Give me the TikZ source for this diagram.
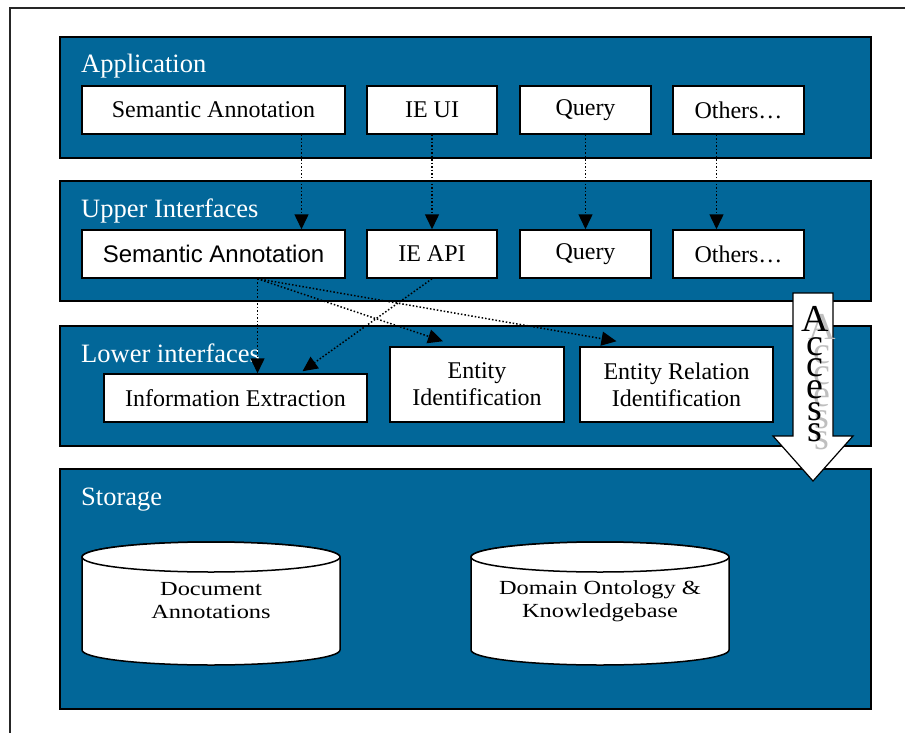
\documentclass[tikz,border=0pt]{standalone}
\usepackage{fontspec}
\setmainfont{Liberation Serif}
\newfontfamily\sansbox{Liberation Sans}
\newfontfamily\widefont[FakeStretch=1.22]{Liberation Serif}
\usetikzlibrary{arrows.meta}
\definecolor{layerblue}{RGB}{2,103,153}

\tikzset{
  layer/.style={draw=black, fill=layerblue, line width=1.5pt},
  layertitle/.style={anchor=base west, text=white, inner sep=0pt,
    font=\fontsize{26.5}{30}\selectfont},
  compbox/.style={draw=black, fill=white, line width=1.5pt, inner sep=0pt,
    minimum height=48pt, align=center, font=\fontsize{24}{27}\selectfont},
  cylbody/.style={draw=black, fill=white, line width=1.5pt},
  cyltext/.style={align=center, font=\widefont\fontsize{20}{23}\selectfont},
  uses/.style={line width=1.5pt, dash pattern=on 1.5pt off 2pt,
    -{Triangle[length=15pt,width=14pt]}},
  accessletter/.style={anchor=base, inner sep=0pt,
    font=\fontsize{38}{38}\selectfont},
}

\begin{document}
\begin{tikzpicture}[x=1pt, y=-1pt]
\useasboundingbox (0,0) rectangle (905,733);

% frame
\draw[line width=1.5pt, black!85] (10,733) -- (10,8) -- (905,8);

% layers
\draw[layer] (60,37) rectangle (871,158);
\draw[layer] (60,181) rectangle (871,301);
\draw[layer] (60,326) rectangle (871,446);
\draw[layer] (60,469) rectangle (871,709);

\node[layertitle] (appTitle) at (81,73) {Application};
\node[layertitle] (upTitle) at (81,217) {Upper Interfaces};
\node[layertitle] (lowTitle) at (81,362) {Lower interfaces};
\node[layertitle] (storeTitle) at (81,505) {Storage};

% application
\node[compbox, minimum width=263pt] (appSem) at (213.5,110) {Semantic Annotation};
\node[compbox, minimum width=130pt] (appIE) at (432,110) {IE UI};
\node[compbox, minimum width=131pt] (appQuery) at (585.5,110) {Query};
\node[compbox, minimum width=131pt] (appOthers) at (738.5,110) {Others\dots};

% upper interfaces
\node[compbox, minimum width=263pt, font=\sansbox\fontsize{24}{27}\selectfont]
  (upSem) at (213.5,254) {Semantic Annotation};
\node[compbox, minimum width=130pt] (upIE) at (432,254) {IE API};
\node[compbox, minimum width=131pt] (upQuery) at (585.5,254) {Query};
\node[compbox, minimum width=131pt] (upOthers) at (738.5,254) {Others\dots};

% lower interfaces
\node[compbox, minimum width=263pt] (lowIE) at (235.5,398) {Information Extraction};
\node[compbox, minimum width=174pt, minimum height=75pt] (lowEnt) at (477,384.5)
  {Entity\\Identification};
\node[compbox, minimum width=193pt, minimum height=75pt] (lowRel) at (676.5,384.5)
  {Entity Relation\\Identification};

% application -> upper
\draw[uses] ([xshift=88pt]appSem.south) -- ([xshift=88pt]upSem.north);
\draw[uses] (appIE.south) -- (appIE.south |- upIE.north);
\draw[uses] (appQuery.south) -- (appQuery.south |- upQuery.north);
\draw[uses] ([xshift=-22pt]appOthers.south) -- ([xshift=-22pt]upOthers.north);

% upper -> lower
\coordinate (semFork) at ([xshift=44pt]upSem.south);
\draw[uses] (semFork) -- (semFork |- lowIE.north);
\draw[uses] (semFork) -- ([xshift=-34pt,yshift=5pt]lowEnt.north);
\draw[uses] (semFork) -- ([xshift=-60pt,yshift=5pt]lowRel.north);
\draw[uses] (upIE.south) -- ([xshift=67pt,yshift=2pt]lowIE.north);

% access arrow
\draw[fill=white, line width=1.2pt] (793,293) -- (833,293) -- (833,436)
  -- (853,436) -- (813,481) -- (773,436) -- (793,436) -- cycle;
\foreach \ch/\yb [count=\i] in {A/331,c/355,c/376,e/398,s/420,s/441} {
  \node[accessletter, text=black!25] (accShadow\i) at (822,\yb+8) {\ch};
  \node[accessletter] (acc\i) at (815,\yb) {\ch};
}

% storage
\draw[cylbody] (82,557) -- (82,650)
  arc[start angle=180, end angle=360, x radius=129pt, y radius=15pt]
  -- (340,557) arc[start angle=0, end angle=180, x radius=129pt, y radius=15pt];
\draw[cylbody] (211,557) ellipse[x radius=129pt, y radius=15pt];
\node[cyltext] (docText) at (211,601) {Document\\Annotations};

\draw[cylbody] (471,557) -- (471,650)
  arc[start angle=180, end angle=360, x radius=129pt, y radius=15pt]
  -- (729,557) arc[start angle=0, end angle=180, x radius=129pt, y radius=15pt];
\draw[cylbody] (600,557) ellipse[x radius=129pt, y radius=15pt];
\node[cyltext] (ontText) at (600,601) {Domain Ontology \&\\Knowledgebase};

\end{tikzpicture}
\end{document}
